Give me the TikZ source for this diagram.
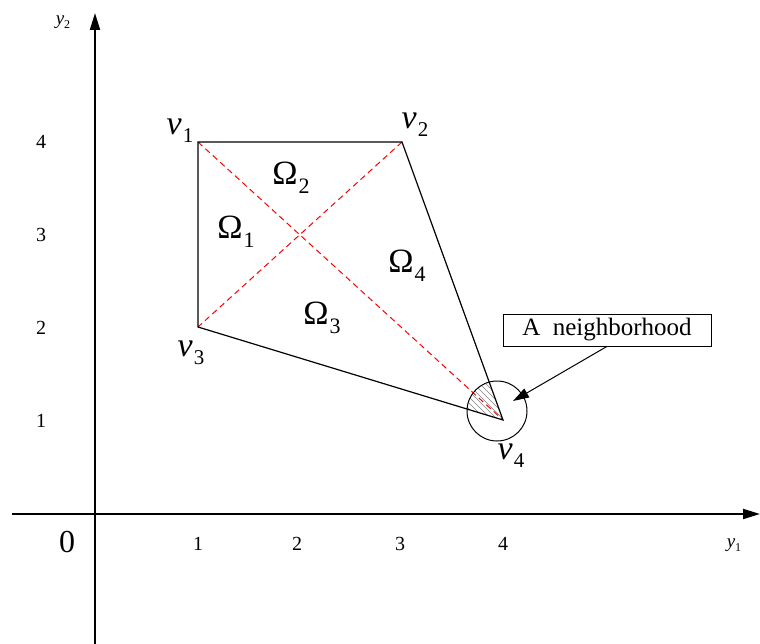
\documentclass[tikz,border=0pt]{standalone}
\usepackage{fontspec}
\setmainfont{Liberation Serif}
\usetikzlibrary{arrows.meta}
\newcommand{\vlab}[1]{{\fontsize{34}{34}\selectfont\itshape v}\kern1pt\raisebox{-8pt}{\fontsize{21}{21}\selectfont #1}}
\newcommand{\omlab}[1]{{\fontsize{34}{34}\selectfont Ω}\kern1pt\raisebox{-9pt}{\fontsize{22}{22}\selectfont #1}}
\tikzset{
  axis/.style={line width=2pt, -{Triangle[length=17pt,width=10pt]}},
  edge/.style={line width=1.2pt},
  diag/.style={red, line width=1pt, dash pattern=on 6pt off 4pt},
  tick/.style={font=\fontsize{20}{20}\selectfont},
  lab/.style={inner sep=0pt}
}
\begin{document}
\begin{tikzpicture}[x=1pt,y=-1pt]
\useasboundingbox (0,0) rectangle (760,644);
% axes
\coordinate (xs) at (12,514);
\coordinate (xe) at (760,514);
\coordinate (ys) at (95,644);
\coordinate (ye) at (95,13);
\draw[axis] (xs) -- (xe);
\draw[axis] (ys) -- (ye);
% vertices
\coordinate (v1) at (198,142);
\coordinate (v2) at (402,142);
\coordinate (v3) at (198,327);
\coordinate (v4) at (503,420);
\coordinate (cc) at (497,411);
% hatch
\begin{scope}
  \clip (v4) -- (v3) -- (v2) -- cycle;
  \clip (cc) circle (30);
  \foreach \k in {-80,-74,...,80} {
    \draw[gray, line width=0.5pt] (497+\k-40,411-40) -- (497+\k+40,411+40);
  }
\end{scope}
% diagonals
\draw[diag] (v1) -- (v4);
\draw[diag] (v2) -- (v3);
% polygon
\draw[edge] (v1) -- (v2) -- (v4) -- (v3) -- cycle;
% circle
\draw[line width=1pt] (cc) circle (30);
% labels
\node[lab] (l1) at (180,131) {\vlab{1}};
\node[lab] (l2) at (415,125) {\vlab{2}};
\node[lab] (l3) at (191,353) {\vlab{3}};
\node[lab] (l4) at (511,456) {\vlab{4}};
\node[lab] (o1) at (236,232) {\omlab{1}};
\node[lab] (o2) at (291,178) {\omlab{2}};
\node[lab] (o3) at (322,318) {\omlab{3}};
\node[lab] (o4) at (407,266) {\omlab{4}};
% ticks
\node[tick] (tx1) at (198,544) {1};
\node[tick] (tx2) at (297,544) {2};
\node[tick] (tx3) at (400,544) {3};
\node[tick] (tx4) at (503,544) {4};
\node[tick] (ty4) at (41,142) {4};
\node[tick] (ty3) at (41,235) {3};
\node[tick] (ty2) at (41,328) {2};
\node[tick] (ty1) at (41,421) {1};
\node[font=\fontsize{32}{32}\selectfont] (zero) at (67,542) {0};
\node[lab] (ylab2) at (63,22) {{\fontsize{19}{19}\selectfont\itshape y}\raisebox{-4pt}{\fontsize{12}{12}\selectfont 2}};
\node[lab] (ylab1) at (734,545) {{\fontsize{19}{19}\selectfont\itshape y}\raisebox{-4pt}{\fontsize{12}{12}\selectfont 1}};
% neighborhood box
\node[draw, line width=0.8pt, minimum width=208pt, minimum height=32pt, inner sep=0pt,
      font=\fontsize{25}{25}\selectfont] (nb) at (607,330) {A\ \ neighborhood};
\coordinate (tip) at (513,401);
\draw[line width=1pt, -{Triangle[length=16pt,width=10pt]}] (nb.south) -- (tip);
\end{tikzpicture}
\end{document}
